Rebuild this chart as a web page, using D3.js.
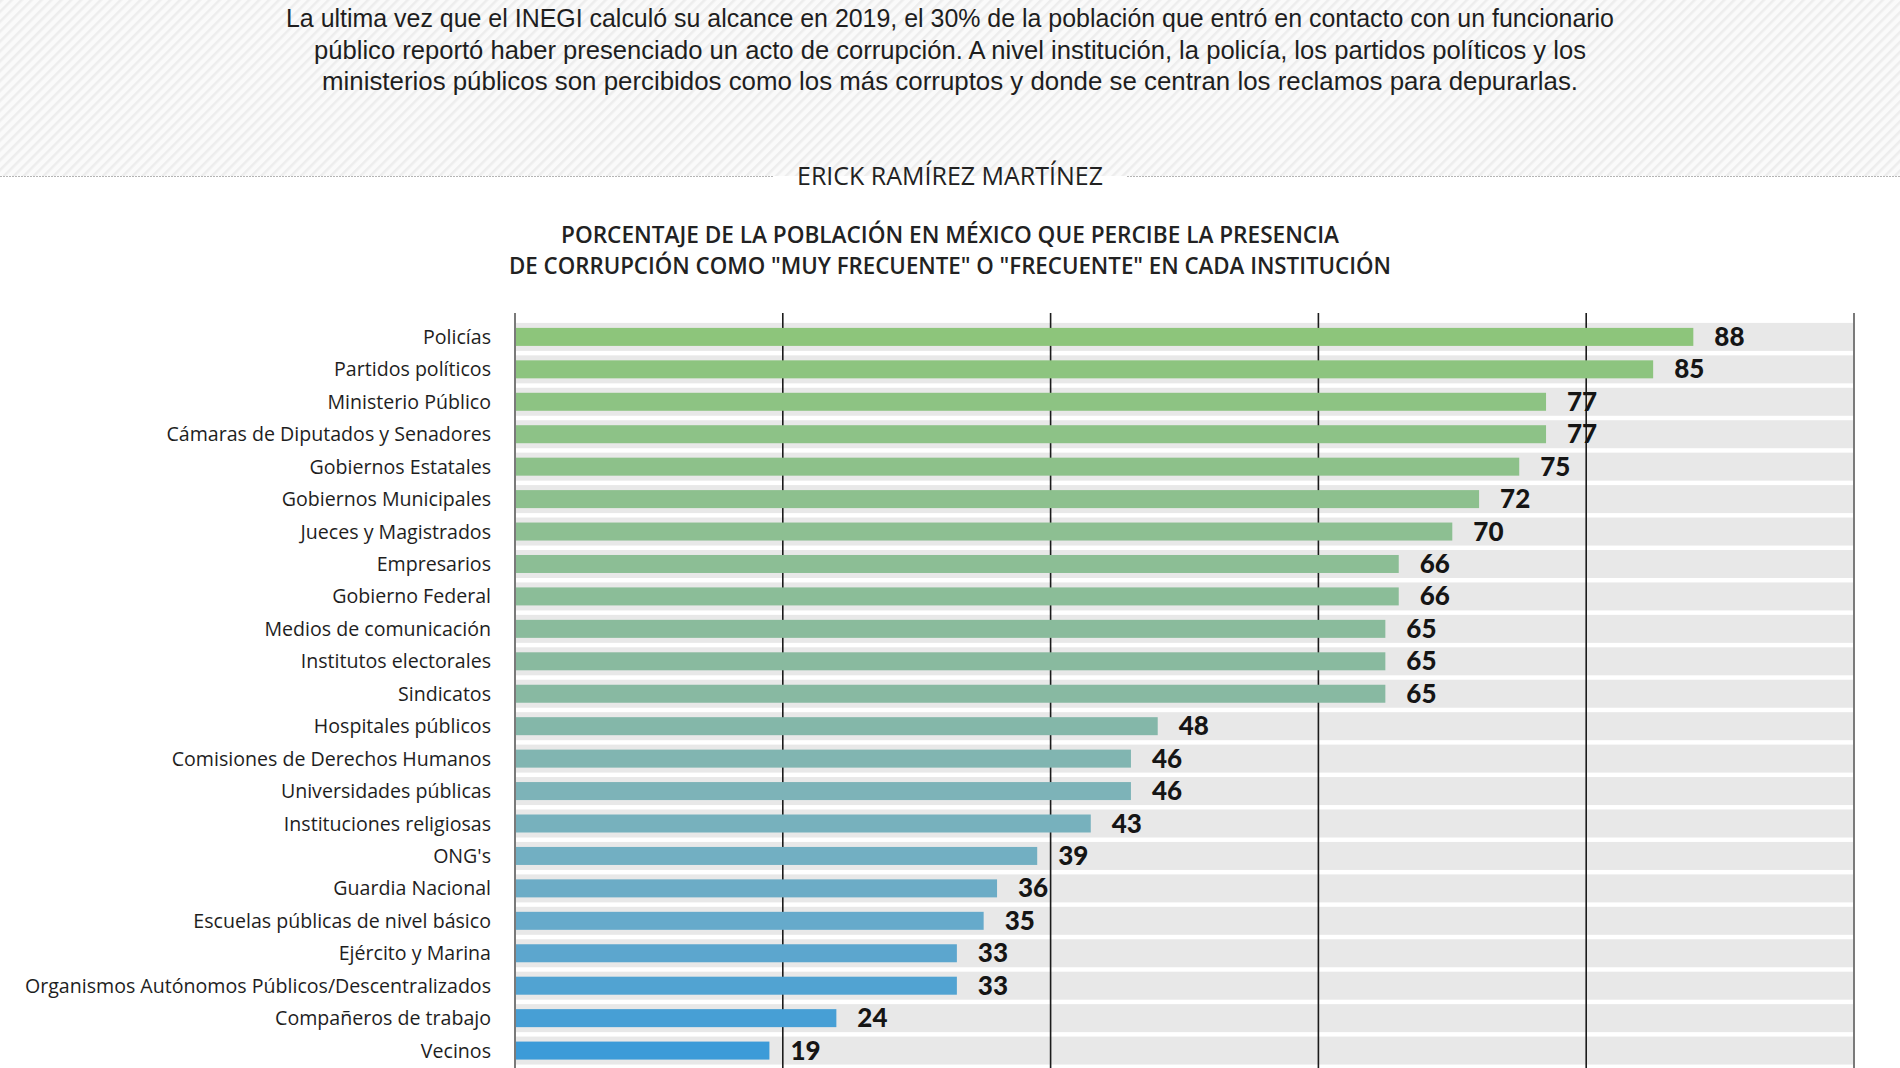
<!DOCTYPE html>
<html><head><meta charset="utf-8">
<script src="https://cdn.jsdelivr.net/npm/d3@7"></script>
<style>html,body{margin:0;padding:0;background:#fff;}svg{display:block;}</style>
</head><body>
<svg id="chart" width="1900" height="1068"></svg>
<script>
const categories = ["Policías","Partidos políticos","Ministerio Público","Cámaras de Diputados y Senadores","Gobiernos Estatales","Gobiernos Municipales","Jueces y Magistrados","Empresarios","Gobierno Federal","Medios de comunicación","Institutos electorales","Sindicatos","Hospitales públicos","Comisiones de Derechos Humanos","Universidades públicas","Instituciones religiosas","ONG's","Guardia Nacional","Escuelas públicas de nivel básico","Ejército y Marina","Organismos Autónomos Públicos/Descentralizados","Compañeros de trabajo","Vecinos"];
const values = [88,85,77,77,75,72,70,66,66,65,65,65,48,46,46,43,39,36,35,33,33,24,19];
const gridTicks = [0,20,40,60,80,100];
const introLines = [
  "La ultima vez que el INEGI calculó su alcance en 2019, el 30% de la población que entró en contacto con un funcionario",
  "público reportó haber presenciado un acto de corrupción. A nivel institución, la policía, los partidos políticos y los",
  "ministerios públicos son percibidos como los más corruptos y donde se centran los reclamos para depurarlas."
];
const introWidths = [1328,1272,1256];
const byline = "ERICK RAMÍREZ MARTÍNEZ";
const titleLines = [
  "PORCENTAJE DE LA POBLACIÓN EN MÉXICO QUE PERCIBE LA PRESENCIA",
  "DE CORRUPCIÓN COMO \"MUY FRECUENTE\" O \"FRECUENTE\" EN CADA INSTITUCIÓN"
];
const titleWidths = [778,882];
const colorStops = ["#8dc57b","#8dbf92","#88b9a2","#7db3b8","#66aacb","#3c9bd8"];
const colorStopRows = [0,6,11,14,18,22];

const svg = d3.select("#chart");
const W = 1900, H = 1068;

// hatch background
const defs = svg.append("defs");
const pat = defs.append("pattern").attr("id","hatch").attr("patternUnits","userSpaceOnUse")
  .attr("width",7).attr("height",7).attr("patternTransform","rotate(45)");
pat.append("rect").attr("width",7).attr("height",7).attr("fill","#fafafa");
pat.append("rect").attr("width",2.5).attr("height",7).attr("fill","#ededed");
svg.append("rect").attr("x",0).attr("y",0).attr("width",W).attr("height",176).attr("fill","url(#hatch)");

// intro text
svg.append("g").selectAll("text").data(introLines).join("text")
  .attr("x",950).attr("y",(d,i)=>27+i*31.5)
  .attr("text-anchor","middle")
  .attr("textLength",(d,i)=>introWidths[i]).attr("lengthAdjust","spacingAndGlyphs")
  .style("font-family","'Liberation Sans', sans-serif").style("font-size","26px").attr("fill","#1e1e1e")
  .text(d=>d);

// byline + rules
svg.append("line").attr("x1",0).attr("x2",773).attr("y1",176.5).attr("y2",176.5)
  .attr("stroke","#b5b5b5").attr("stroke-width",1).attr("stroke-dasharray","2,1");
svg.append("line").attr("x1",1127).attr("x2",W).attr("y1",176.5).attr("y2",176.5)
  .attr("stroke","#b5b5b5").attr("stroke-width",1).attr("stroke-dasharray","2,1");
svg.append("text").attr("x",950).attr("y",185).attr("text-anchor","middle")
  .attr("textLength",306).attr("lengthAdjust","spacingAndGlyphs")
  .style("font-family","'Open Sans', sans-serif").style("font-size","25px").attr("fill","#222")
  .text(byline);

// title
svg.append("g").selectAll("text").data(titleLines).join("text")
  .attr("x",950).attr("y",(d,i)=>243+i*30.5)
  .attr("text-anchor","middle")
  .attr("textLength",(d,i)=>titleWidths[i]).attr("lengthAdjust","spacingAndGlyphs")
  .style("font-family","'Open Sans', sans-serif").style("font-size","24px").style("font-weight","600").attr("fill","#222")
  .text(d=>d);

// scales
const x = d3.scaleLinear().domain([0,100]).range([515,1854]);
const rowStep = 32.44, firstRow = 336.9;
const y = d3.scaleBand().domain(categories)
  .range([firstRow - rowStep/2, firstRow - rowStep/2 + rowStep*categories.length])
  .paddingInner(0).paddingOuter(0);
const color = d3.scaleLinear().domain(colorStopRows).range(colorStops).interpolate(d3.interpolateRgb);

const chart = svg.append("g");
// gray bands
chart.selectAll("rect.band").data(categories).join("rect").attr("class","band")
  .attr("x",x(0)).attr("width",x(100)-x(0))
  .attr("y",d=>y(d)+y.bandwidth()/2-14).attr("height",28)
  .attr("fill","#e8e8e8");

// grid lines
chart.selectAll("line.grid").data(gridTicks).join("line").attr("class","grid")
  .attr("x1",d=>x(d)).attr("x2",d=>x(d)).attr("y1",313).attr("y2",H)
  .attr("stroke",d=> (d===0||d===100) ? "#7a7a7a" : "#1c1c1c")
  .attr("stroke-width",d=> (d===0||d===100) ? 2 : 1.6);

// bars
chart.selectAll("rect.bar").data(values).join("rect").attr("class","bar")
  .attr("x",x(0)+1).attr("width",d=>x(d)-x(0)-1)
  .attr("y",(d,i)=>y(categories[i])+y.bandwidth()/2-9).attr("height",18)
  .attr("fill",(d,i)=>color(i));

// value labels
chart.selectAll("text.val").data(values).join("text").attr("class","val")
  .attr("x",d=>x(d)+21)
  .attr("y",(d,i)=>y(categories[i])+y.bandwidth()/2+9)
  .style("font-family","Lato, sans-serif").style("font-size","26px").style("font-weight","900")
  .attr("fill","#151515")
  .text(d=>d);

// category labels
chart.selectAll("text.cat").data(categories).join("text").attr("class","cat")
  .attr("x",491).attr("y",d=>y(d)+y.bandwidth()/2+7)
  .attr("text-anchor","end")
  .style("font-family","'Open Sans', sans-serif").style("font-size","19.6px").attr("fill","#1e1e1e")
  .text(d=>d);
</script>
</body></html>
